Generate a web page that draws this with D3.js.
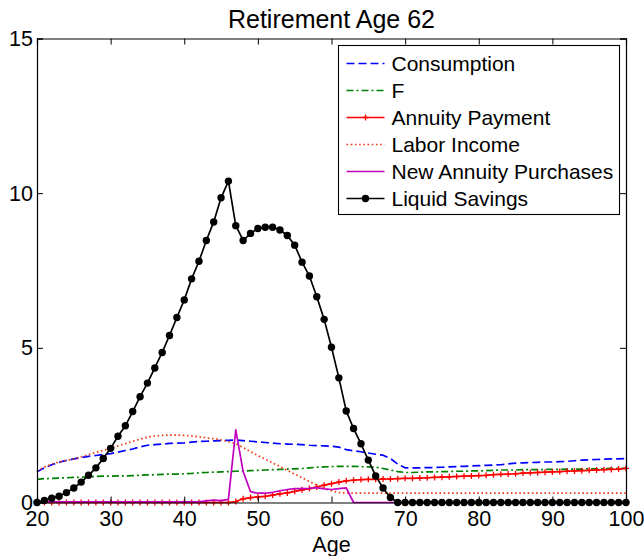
<!DOCTYPE html>
<html>
<head>
<meta charset="utf-8">
<script src="https://cdn.jsdelivr.net/npm/d3@7"></script>
<style>
  html, body { margin: 0; padding: 0; background: #fff; }
  svg { display: block; font-family: "Liberation Sans", Arial, Helvetica, sans-serif; }
</style>
</head>
<body>
<svg id="chart" width="644" height="556"></svg>
<script>
// Life-cycle profiles, one value per age from 20 to 100
const ages = d3.range(20, 101);

const consumption = [
  0.99, 1.12, 1.22, 1.30, 1.36, 1.41, 1.45, 1.49, 1.52, 1.55,
  1.58, 1.63, 1.68, 1.73, 1.80, 1.85, 1.87, 1.89, 1.91, 1.92,
  1.93, 1.95, 1.97, 1.98, 1.99, 2.00, 2.01, 2.02, 2.00, 1.98,
  1.96, 1.94, 1.92, 1.90, 1.89, 1.88, 1.87, 1.85, 1.84, 1.83,
  1.82, 1.79, 1.71, 1.67, 1.64, 1.60, 1.56, 1.53, 1.42, 1.24,
  1.12, 1.12, 1.12, 1.13, 1.13, 1.14, 1.15, 1.16, 1.17, 1.18,
  1.19, 1.20, 1.21, 1.22, 1.25, 1.27, 1.28, 1.29, 1.30, 1.31,
  1.31, 1.32, 1.33, 1.35, 1.37, 1.38, 1.39, 1.40, 1.41, 1.41,
  1.42
];

const fValue = [
  0.75, 0.77, 0.78, 0.79, 0.80, 0.81, 0.82, 0.83, 0.84, 0.85,
  0.85, 0.86, 0.86, 0.87, 0.88, 0.89, 0.90, 0.91, 0.92, 0.92,
  0.93, 0.94, 0.96, 0.97, 0.98, 0.99, 1.00, 1.01, 1.02, 1.03,
  1.04, 1.05, 1.06, 1.07, 1.08, 1.09, 1.10, 1.12, 1.14, 1.15,
  1.16, 1.17, 1.17, 1.17, 1.16, 1.15, 1.14, 1.10, 1.05, 1.00,
  0.97, 0.97, 0.98, 0.99, 0.99, 1.00, 1.00, 1.01, 1.01, 1.02,
  1.02, 1.03, 1.04, 1.05, 1.05, 1.05, 1.06, 1.06, 1.06, 1.07,
  1.07, 1.07, 1.08, 1.08, 1.08, 1.09, 1.09, 1.09, 1.10, 1.10,
  1.10
];

const annuityPayment = [
  0, 0, 0, 0, 0, 0, 0, 0, 0, 0,
  0, 0, 0, 0, 0, 0, 0, 0, 0, 0,
  0, 0, 0, 0, 0, 0, 0, 0.03, 0.12, 0.16,
  0.18, 0.20, 0.24, 0.28, 0.31, 0.36, 0.41, 0.45, 0.50, 0.56,
  0.61, 0.66, 0.70, 0.72, 0.74, 0.75, 0.75, 0.76, 0.76, 0.77,
  0.78, 0.78, 0.79, 0.80, 0.81, 0.82, 0.83, 0.84, 0.85, 0.86,
  0.87, 0.88, 0.90, 0.91, 0.92, 0.93, 0.95, 0.96, 0.97, 0.98,
  0.99, 1.00, 1.01, 1.02, 1.03, 1.04, 1.05, 1.06, 1.07, 1.08,
  1.10
];

const laborIncome = [
  1.02, 1.15, 1.24, 1.31, 1.36, 1.41, 1.48, 1.55, 1.62, 1.69,
  1.75, 1.83, 1.90, 1.98, 2.05, 2.11, 2.15, 2.17, 2.18, 2.18,
  2.17, 2.15, 2.12, 2.09, 2.06, 2.02, 1.97, 1.90, 1.78, 1.64,
  1.52, 1.40, 1.28, 1.16, 1.04, 0.92, 0.80, 0.68, 0.56, 0.46,
  0.38, 0.32, 0.30, 0.30, 0.30, 0.30, 0.30, 0.30, 0.30, 0.30,
  0.30, 0.30, 0.30, 0.30, 0.30, 0.30, 0.30, 0.30, 0.30, 0.30,
  0.30, 0.30, 0.30, 0.30, 0.30, 0.30, 0.30, 0.30, 0.30, 0.30,
  0.30, 0.30, 0.30, 0.30, 0.30, 0.30, 0.30, 0.30, 0.30, 0.30,
  0.30
];

const newAnnuityPurchases = [
  0.02, 0.02, 0.02, 0.02, 0.02, 0.02, 0.02, 0.02, 0.02, 0.02,
  0.02, 0.02, 0.02, 0.02, 0.02, 0.02, 0.02, 0.02, 0.02, 0.02,
  0.02, 0.02, 0.02, 0.05, 0.08, 0.06, 0.10, 2.35, 1.00, 0.35,
  0.30, 0.30, 0.33, 0.38, 0.42, 0.45, 0.45, 0.46, 0.48, 0.44,
  0.42, 0.45, 0.47, 0, 0, 0, 0, 0, 0, 0,
  0, 0, 0, 0, 0, 0, 0, 0, 0, 0,
  0, 0, 0, 0, 0, 0, 0, 0, 0, 0,
  0, 0, 0, 0, 0, 0, 0, 0, 0, 0,
  0
];

const liquidSavings = [
  0, 0.07, 0.14, 0.20, 0.32, 0.47, 0.66, 0.88, 1.12, 1.42,
  1.75, 2.14, 2.48, 2.94, 3.42, 3.86, 4.35, 4.85, 5.40, 5.98,
  6.55, 7.23, 7.80, 8.47, 9.07, 9.85, 10.39, 8.95, 8.47, 8.70,
  8.86, 8.90, 8.90, 8.81, 8.63, 8.32, 7.77, 7.32, 6.65, 5.92,
  5.02, 4.03, 2.96, 2.39, 1.90, 1.37, 0.86, 0.47, 0.16, 0,
  0, 0, 0, 0, 0, 0, 0, 0, 0, 0,
  0, 0, 0, 0, 0, 0, 0, 0, 0, 0,
  0, 0, 0, 0, 0, 0, 0, 0, 0, 0,
  0
];

const xTicks = [20, 30, 40, 50, 60, 70, 80, 90, 100];
const yTicks = [0, 5, 10, 15];
const titleText = "Retirement Age 62";
const xLabel = "Age";

const seriesNames = ["Consumption", "F", "Annuity Payment", "Labor Income",
                     "New Annuity Purchases", "Liquid Savings"];

// Plot frame
const plot = { left: 37, right: 626, top: 38.5, bottom: 502.5 };

const svg = d3.select("#chart");
const x = d3.scaleLinear().domain([20, 100]).range([plot.left, plot.right]);
const y = d3.scaleLinear().domain([0, 15]).range([plot.bottom, plot.top]);

// Series styling
const styles = [
  { values: consumption, color: "#0000ff", dash: "8,4", marker: null },
  { values: fValue, color: "#008000", dash: "7,3,2,3", marker: null },
  { values: annuityPayment, color: "#ff0000", dash: null, marker: "plus" },
  { values: laborIncome, color: "#f23a12", dash: "1.6,2.6", marker: null },
  { values: newAnnuityPurchases, color: "#c000c0", dash: null, marker: null },
  { values: liquidSavings, color: "#000000", dash: null, marker: "dot" }
];

const line = d3.line().x(d => x(d[0])).y(d => y(d[1]));

svg.append("defs").append("clipPath").attr("id", "plotclip")
  .append("rect")
  .attr("x", plot.left - 6).attr("y", plot.top)
  .attr("width", plot.right - plot.left + 12).attr("height", plot.bottom - plot.top + 6);

const marks = svg.append("g").attr("clip-path", "url(#plotclip)");

styles.forEach((s, i) => {
  const pts = ages.map((a, k) => [a, s.values[k]]);
  const g = marks.append("g").attr("class", "series-" + i);
  g.append("path")
    .attr("d", line(pts))
    .attr("fill", "none")
    .attr("stroke", s.color)
    .attr("stroke-width", 1.7)
    .attr("stroke-dasharray", s.dash)
    .attr("stroke-linejoin", "round");
  if (s.marker === "dot") {
    g.selectAll("circle").data(pts).join("circle")
      .attr("cx", d => x(d[0])).attr("cy", d => y(d[1]))
      .attr("r", 3.7).attr("fill", s.color);
  } else if (s.marker === "plus") {
    g.selectAll("path.plus").data(pts).join("path")
      .attr("class", "plus")
      .attr("d", d => {
        const cx = x(d[0]), cy = y(d[1]);
        return `M${cx - 3},${cy}H${cx + 3}M${cx},${cy - 3}V${cy + 3}`;
      })
      .attr("stroke", s.color).attr("stroke-width", 1.3).attr("fill", "none");
  }
});

// Axes: ticks point inward, mirrored on top and right
const tickLen = 6;
const xAxisB = d3.axisBottom(x).tickValues(xTicks).tickSize(-tickLen).tickPadding(8);
const xAxisT = d3.axisTop(x).tickValues(xTicks).tickSize(-tickLen).tickFormat("");
const yAxisL = d3.axisLeft(y).tickValues(yTicks).tickSize(-tickLen).tickPadding(4);
const yAxisR = d3.axisRight(y).tickValues(yTicks).tickSize(-tickLen).tickFormat("");

function styleAxis(g) {
  g.selectAll("path.domain").attr("stroke", "#000").attr("stroke-width", 1.2);
  g.selectAll(".tick line").attr("stroke", "#000").attr("stroke-width", 1);
  g.selectAll(".tick text").attr("fill", "#000").attr("font-size", 21.5)
    .attr("font-family", "Liberation Sans, Arial, sans-serif");
}

svg.append("g").attr("transform", `translate(0,${plot.bottom})`).call(xAxisB).call(styleAxis);
svg.append("g").attr("transform", `translate(0,${plot.top})`).call(xAxisT).call(styleAxis);
svg.append("g").attr("transform", `translate(${plot.left},0)`).call(yAxisL).call(styleAxis);
svg.append("g").attr("transform", `translate(${plot.right},0)`).call(yAxisR).call(styleAxis);

// Title and axis label
svg.append("text")
  .attr("x", (plot.left + plot.right) / 2).attr("y", 28)
  .attr("text-anchor", "middle").attr("font-size", 25).attr("fill", "#000")
  .text(titleText);

svg.append("text")
  .attr("x", (plot.left + plot.right) / 2).attr("y", 552)
  .attr("text-anchor", "middle").attr("font-size", 21.5).attr("fill", "#000")
  .text(xLabel);

// Legend
const legend = svg.append("g").attr("transform", "translate(338.5,45.5)");
legend.append("rect")
  .attr("width", 281).attr("height", 169)
  .attr("fill", "#fff").attr("stroke", "#000").attr("stroke-width", 1.1);

styles.forEach((s, i) => {
  const cy = 18 + i * 27;
  const row = legend.append("g");
  row.append("line")
    .attr("x1", 8).attr("x2", 46).attr("y1", cy).attr("y2", cy)
    .attr("stroke", s.color).attr("stroke-width", 1.7)
    .attr("stroke-dasharray", s.dash);
  if (s.marker === "dot") {
    row.append("circle").attr("cx", 27).attr("cy", cy).attr("r", 3.7).attr("fill", s.color);
  } else if (s.marker === "plus") {
    row.append("path").attr("d", `M24,${cy}H30M27,${cy - 3}V${cy + 3}`)
      .attr("stroke", s.color).attr("stroke-width", 1.3);
  }
  row.append("text")
    .attr("x", 53).attr("y", cy).attr("dy", "0.35em")
    .attr("font-size", 21).attr("fill", "#000")
    .text(seriesNames[i]);
});
</script>
</body>
</html>
